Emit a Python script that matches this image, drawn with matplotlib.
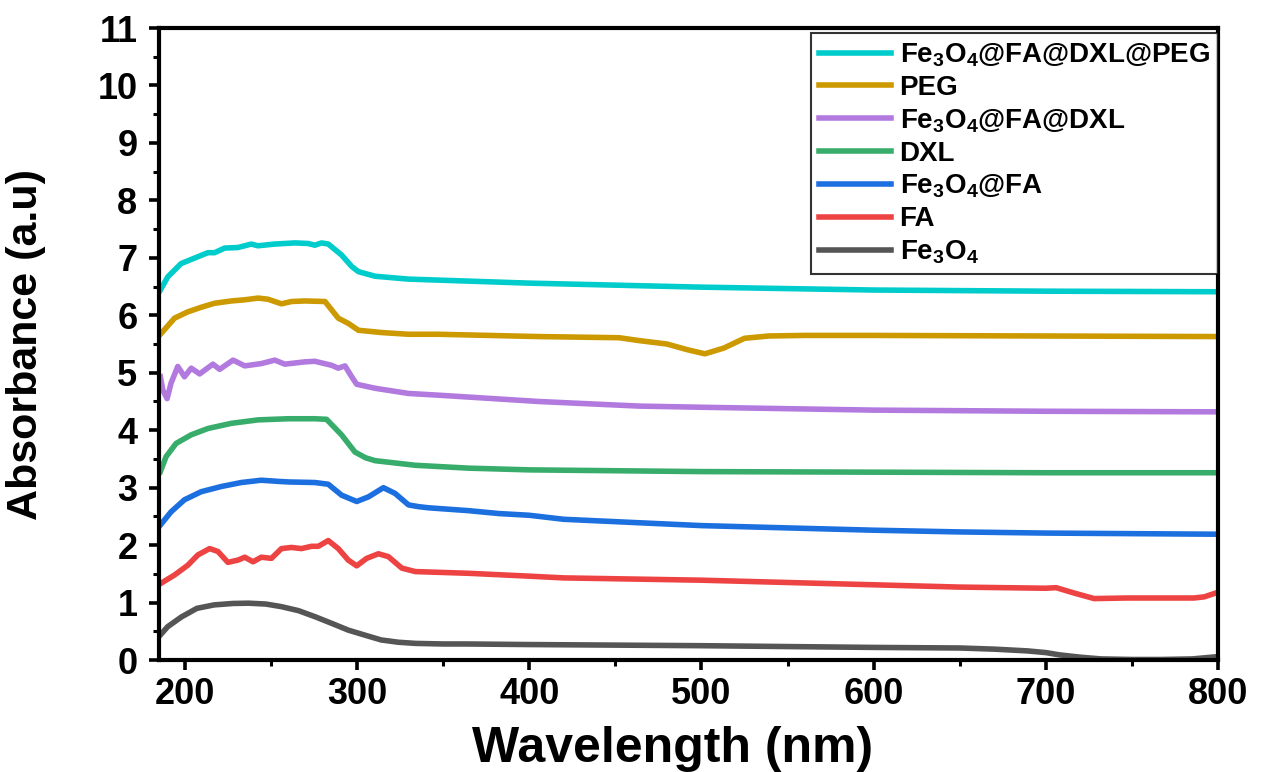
import numpy as np
import matplotlib
matplotlib.use("Agg")
import matplotlib.pyplot as plt

plt.rcParams['font.family'] = ['Liberation Sans', 'DejaVu Sans']
plt.rcParams['font.weight'] = 'bold'
plt.rcParams['mathtext.fontset'] = 'custom'
plt.rcParams['mathtext.bf'] = 'Liberation Sans:bold'
plt.rcParams['mathtext.rm'] = 'Liberation Sans:bold'
plt.rcParams['mathtext.default'] = 'bf'

# --- spectra (wavelength nm, absorbance a.u.) ---
fe3o4_x = [185, 190, 198, 207, 217, 228, 237, 247, 256, 266, 276, 286, 295, 305, 314, 324, 334, 350, 363,
           400, 500, 600, 650, 670, 689, 700, 708, 720, 732, 750, 767, 785, 800]
fe3o4_y = [0.41, 0.58, 0.75, 0.90, 0.96, 0.985, 0.99, 0.975, 0.93, 0.86, 0.75, 0.63, 0.52, 0.43, 0.35, 0.31, 0.29, 0.28, 0.28,
           0.27, 0.25, 0.22, 0.21, 0.19, 0.16, 0.13, 0.09, 0.05, 0.02, 0.01, 0.01, 0.02, 0.06]

fa_x = [185.8, 194, 201.7, 207.6, 214.4, 219.2, 225, 230.9, 234.8, 239.6, 244.4, 250.3, 256.1, 261.9, 267.7,
        273.6, 277.5, 283.3, 289.1, 294.9, 299.8, 305.6, 312.4, 318.2, 326, 333.8, 364.8, 400, 420, 500, 600,
        650, 700, 706, 716, 728, 747, 786, 792, 800]
fa_y = [1.33, 1.48, 1.65, 1.83, 1.94, 1.89, 1.70, 1.74, 1.79, 1.71, 1.79, 1.77, 1.94, 1.96, 1.94,
        1.98, 1.98, 2.08, 1.94, 1.74, 1.64, 1.77, 1.85, 1.80, 1.60, 1.54, 1.51, 1.46, 1.43, 1.39, 1.31,
        1.27, 1.25, 1.26, 1.17, 1.07, 1.08, 1.08, 1.10, 1.18]

fe3o4_fa_x = [185.8, 192, 199.8, 209.5, 221.1, 232.8, 244.4, 254, 260, 275.5, 283.3, 291, 299.8, 306.6, 315.3,
              322.1, 329.9, 335.7, 341.5, 364.8, 382.3, 400, 420, 500, 600, 650, 700, 800]
fe3o4_fa_y = [2.35, 2.58, 2.79, 2.93, 3.02, 3.09, 3.13, 3.11, 3.10, 3.09, 3.06, 2.87, 2.76, 2.84, 3.00,
              2.90, 2.70, 2.67, 2.65, 2.60, 2.55, 2.52, 2.45, 2.34, 2.26, 2.23, 2.21, 2.19]

dxl_x = [185.8, 189.1, 194.9, 203.7, 213.4, 227, 242.5, 260, 275.5, 282.3, 291, 298.8, 305, 310.5, 333.8,
         364.8, 400, 500, 600, 700, 800]
dxl_y = [3.28, 3.54, 3.77, 3.92, 4.03, 4.12, 4.18, 4.20, 4.20, 4.19, 3.92, 3.62, 3.52, 3.47, 3.39,
         3.34, 3.31, 3.28, 3.27, 3.26, 3.26]

fe3o4_fa_dxl_x = [185.8, 187.2, 189.7, 192, 195.9, 199.8, 203.7, 208.6, 216.3, 220.2, 228, 234.8, 244.4, 252.2,
                  258.1, 269.7, 275.5, 285.2, 289.1, 293, 296.9, 299.8, 310.5, 329.9, 347.3, 405.6, 463.8,
                  500, 600, 700, 800]
fe3o4_fa_dxl_y = [4.93, 4.70, 4.55, 4.82, 5.11, 4.93, 5.08, 4.98, 5.15, 5.06, 5.22, 5.12, 5.16, 5.22,
                  5.15, 5.19, 5.20, 5.13, 5.08, 5.12, 4.93, 4.80, 4.73, 4.64, 4.61, 4.50, 4.42,
                  4.40, 4.35, 4.33, 4.32]

peg_x = [185.8, 194, 201.7, 209.5, 217.3, 227, 234.8, 242.5, 248.3, 256.1, 261.9, 269.7, 281.4, 289.1, 294.9,
         300.8, 314.3, 329.9, 347.3, 405.6, 452.2, 463.8, 480, 492, 502, 513, 525, 539, 560, 600, 700, 800]
peg_y = [5.67, 5.95, 6.06, 6.14, 6.21, 6.25, 6.27, 6.30, 6.28, 6.20, 6.24, 6.25, 6.24, 5.95, 5.86,
         5.74, 5.70, 5.67, 5.67, 5.63, 5.61, 5.56, 5.50, 5.40, 5.33, 5.43, 5.60, 5.64, 5.65, 5.65, 5.64, 5.63]

full_x = [185.8, 190.1, 197.8, 207.6, 213.4, 217.3, 223.1, 230.9, 238.6, 242.5, 252.2, 263.9, 271.6, 275.5,
          279.4, 283.3, 291, 296.9, 300.8, 310.5, 329.9, 400, 500, 600, 700, 800]
full_y = [6.44, 6.67, 6.90, 7.02, 7.09, 7.09, 7.17, 7.18, 7.24, 7.21, 7.24, 7.26, 7.25, 7.22,
          7.26, 7.24, 7.05, 6.85, 6.76, 6.68, 6.63, 6.56, 6.49, 6.44, 6.42, 6.41]

series = [
    (fe3o4_x, fe3o4_y, 'Fe$_3$O$_4$', '#555555'),
    (fa_x, fa_y, 'FA', '#EE4343'),
    (fe3o4_fa_x, fe3o4_fa_y, 'Fe$_3$O$_4$@FA', '#1C6FDF'),
    (dxl_x, dxl_y, 'DXL', '#38AD6B'),
    (fe3o4_fa_dxl_x, fe3o4_fa_dxl_y, 'Fe$_3$O$_4$@FA@DXL', '#B27ADF'),
    (peg_x, peg_y, 'PEG', '#CC9900'),
    (full_x, full_y, 'Fe$_3$O$_4$@FA@DXL@PEG', '#00CCCC'),
]

fig = plt.figure(figsize=(12.68, 7.72), dpi=100)
ax = fig.add_axes([0.1254, 0.145, 0.8352, 0.8187])

handles = []
for xs, ys, lab, col in series:
    h, = ax.plot(xs, ys, color=col, lw=4, label=lab, solid_joinstyle='round')
    handles.append(h)

ax.set_xlim(185, 800)
ax.set_ylim(0, 11)
ax.set_xticks(np.arange(200, 801, 100))
ax.set_xticks(np.arange(250, 800, 100), minor=True)
ax.set_yticks(np.arange(0, 12, 1))
ax.set_yticks(np.arange(0.5, 11, 1), minor=True)

for s in ax.spines.values():
    s.set_linewidth(3)
ax.tick_params(which='major', direction='out', length=7.5, width=2.6, labelsize=26,
               top=False, right=False)
ax.tick_params(axis='y', which='major', pad=8)
ax.tick_params(axis='x', which='major', pad=5)
ax.tick_params(which='minor', direction='out', length=4, width=2.2, top=False, right=False)
for lbl in ax.get_xticklabels() + ax.get_yticklabels():
    lbl.set_fontweight('bold')

ax.set_xlabel('Wavelength (nm)', fontsize=36, fontweight='bold')
ax.xaxis.set_label_coords(0.485, -0.105)
ax.set_ylabel('Absorbance (a.u)', fontsize=31, fontweight='bold')
ax.yaxis.set_label_coords(-0.107, 0.5)

leg = ax.legend(handles=handles[::-1], loc='upper right', bbox_to_anchor=(1.0, 0.992),
                borderaxespad=0, frameon=True, fancybox=False,
                handlelength=2.6, handletextpad=0.3, labelspacing=0.22,
                borderpad=0.3, prop={'weight': 'bold', 'size': 20})
leg.get_frame().set_edgecolor('black')
leg.get_frame().set_linewidth(1.5)

fig.savefig('out.png', dpi=100)
